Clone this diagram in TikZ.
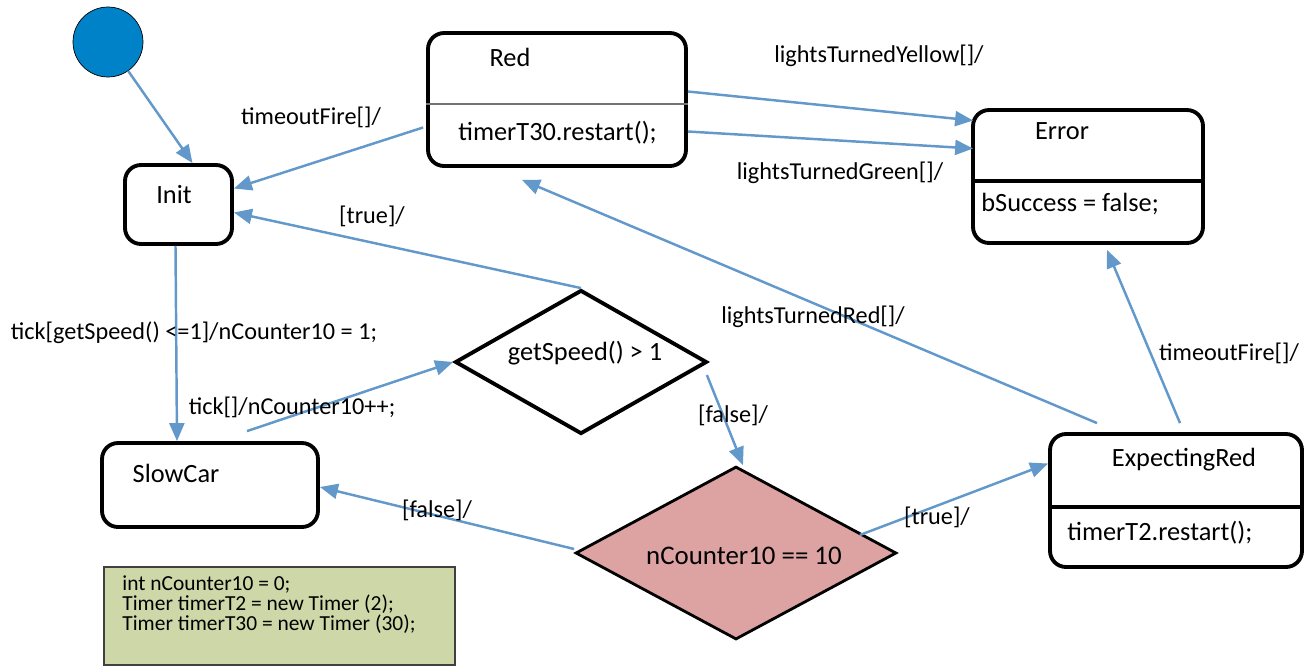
\documentclass[tikz,border=0pt]{standalone}
\usepackage{fontspec}
\setmainfont{Carlito}
\usetikzlibrary{calc,shapes.geometric,arrows.meta}
\definecolor{flowblue}{RGB}{98,152,202}
\definecolor{startblue}{RGB}{0,130,200}
\definecolor{guardpink}{RGB}{221,163,163}
\definecolor{notegreen}{RGB}{205,215,167}
\tikzset{
	state/.style={draw, line width=2.2pt, rounded corners=0.32cm, inner sep=0pt},
	decision/.style={draw, diamond, inner sep=0pt},
	trans/.style={color=flowblue, line width=1.4pt, -{Triangle[length=0.36cm,width=0.3cm]}},
	guard/.style={font=\fontsize{13.8}{16}\selectfont, inner sep=0pt},
	body/.style={font=\fontsize{15}{18}\selectfont, inner sep=0pt},
}

\begin{document}
\begin{tikzpicture}[x=0.02cm, y=-0.02cm]
			%%%%% START %%%%%
			\useasboundingbox (0, 0) rectangle (1312, 667);
			
			\node[circle, draw, fill=startblue, minimum size=1.4cm, inner sep=0pt] (start) at (108, 42) {};
			
			\node[state, minimum width=2.14cm, minimum height=1.58cm] (init) at (178.5, 204.5) {};
			\node[body] at (174, 195) {Init};
			
			\node[state, minimum width=5.16cm, minimum height=2.66cm] (red) at (557, 99.5) {};
			\draw[line width=1pt, color=black!55] ($(red.north west)+(0, 73)$) -- ($(red.north east)+(0, 73)$);
			\node[body] at (510, 57) {Red};
			\node[body, anchor=west] at (458, 133) {timerT30.restart();};
			
			\node[state, minimum width=4.6cm, minimum height=2.66cm] (error) at (1088, 176.5) {};
			\draw[line width=2.2pt] ($(error.north west)+(0, 73)$) -- ($(error.north east)+(0, 73)$);
			\node[body] at (1062, 131) {Error};
			\node[body, anchor=west] at (981, 204) {bSuccess = false;};
			
			\node[state, minimum width=4.32cm, minimum height=1.68cm] (slowcar) at (210, 485) {};
			\node[body] at (176, 473) {SlowCar};
			
			\node[state, minimum width=5.04cm, minimum height=2.66cm] (expect) at (1176, 500.5) {};
			\draw[line width=2.2pt] ($(expect.north west)+(0, 75)$) -- ($(expect.north east)+(0, 75)$);
			\node[body] at (1184, 460) {ExpectingRed};
			\node[body, anchor=west] at (1067, 533) {timerT2.restart();};
			
			\node[decision, line width=2.2pt, minimum width=5.04cm, minimum height=2.88cm] (speed) at (581, 362) {};
			\node[body] at (585, 353) {getSpeed() > 1};
			
			\node[decision, line width=1.6pt, fill=guardpink, minimum width=6.42cm, minimum height=3.46cm] (count) at (736, 553) {};
			\node[body, font=\fontsize{15.3}{18}\selectfont] at (744, 556) {nCounter10 == 10};
			
			\node[draw=black!75, line width=1.1pt, fill=notegreen, minimum width=7.02cm, minimum height=1.96cm] (vars) at (279.5, 616) {};
			\node[font=\fontsize{12.2}{10}\selectfont, anchor=north west, align=left, inner sep=0pt] at (122, 575)
				{int nCounter10 = 0;\\Timer timerT2 = new Timer (2);\\Timer timerT30 = new Timer (30);};
			
			% transitions
			\draw[trans] (start) -- ($(init.north)+(14, 0)$);
			\draw[trans] ($(red.west)+(-3, 28)$) -- ($(init.east)+(0, -16)$);
			\node[guard] at (311, 117) {timeoutFire[]/};
			\draw[trans] (speed.north) -- ($(init.east)+(0, 8)$);
			\node[guard] at (372, 216) {[true]/};
			\draw[trans] ($(init.south)+(-3, 0)$) -- ($(slowcar.north)+(-33, 0)$);
			\node[guard] at (194, 333) {tick[getSpeed() <=1]/nCounter10 = 1;};
			\draw[trans] ($(slowcar.north)+(37, -10)$) -- (speed.west);
			\node[guard] at (292, 407) {tick[]/nCounter10++;};
			\draw[trans] ($(speed.east)+(-2, 13)$) -- ($(count.north)+(7, 0)$);
			\node[guard] at (733, 415) {[false]/};
			\draw[trans] ($(count.west)+(0, -4)$) -- ($(slowcar.east)+(0, 2)$);
			\node[guard] at (437, 510) {[false]/};
			\draw[trans] ($(count.east)+(-38, -18)$) -- ($(expect.west)+(0, -37)$);
			\node[guard] at (937, 517) {[true]/};
			\draw[trans] ($(expect.north)+(-79, -9)$) -- ($(red.south)+(-35, 12)$);
			\node[guard] at (813, 317) {lightsTurnedRed[]/};
			\draw[trans] ($(expect.north)+(4, -9)$) -- ($(error.south)+(19, 5)$);
			\node[guard] at (1229, 353) {timeoutFire[]/};
			\draw[trans] ($(red.east)+(0, -8)$) -- ($(error.west)+(2, -56)$);
			\node[guard] at (879, 56) {lightsTurnedYellow[]/};
			\draw[trans] ($(red.east)+(0, 32)$) -- ($(error.west)+(2, -28)$);
			\node[guard] at (840, 173) {lightsTurnedGreen[]/};
			
			%%%%% END %%%%%
\end{tikzpicture}
\end{document}
